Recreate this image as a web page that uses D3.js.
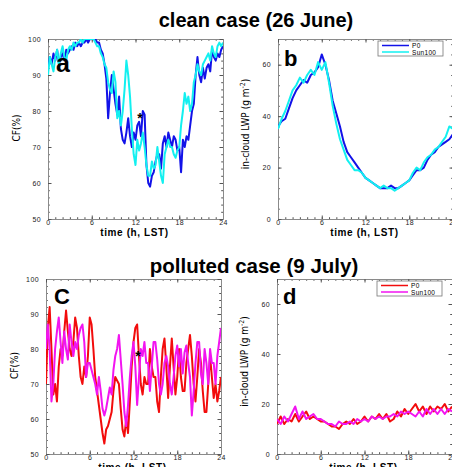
<!DOCTYPE html>
<html>
<head>
<meta charset="utf-8">
<script src="https://cdn.jsdelivr.net/npm/d3@7"></script>
<style>
  body { margin: 0; background: #fff; }
  svg { display: block; font-family: "Liberation Sans", Arial, sans-serif; }
  .tick text { font-size: 7px; fill: #222; letter-spacing: 0.4px; }
  .domain { stroke: #8a8a8a; }
  .tick line { stroke: #555; }
</style>
</head>
<body>
<div id="chart"></div>
<script>
// time grids (hours, LST)
const hoursFine = d3.range(0, 24.001, 0.25);
const hoursHalf = d3.range(0, 24.001, 0.5);

// clean case, cloud fraction (%), every 15 min
const cleanCfP0 = [
  92, 95, 93, 96,  94, 97, 93, 95,  96, 94, 97, 96,  97, 98, 97, 99,
  98, 99, 98, 99,  99, 100, 99, 100,  100, 100, 100, 99,  99, 97, 96, 93,
  89, 78, 85, 90,  86, 82, 79, 84,  75, 72, 71, 74,  78, 73, 70, 74,
  72, 76, 77, 73,  80, 79, 65, 60,  59, 62, 63, 66,  68, 68, 64, 71,
  73, 70, 74, 72,  70, 73, 72, 69,  70, 63, 72, 70,  73, 72, 76, 80,
  82, 90, 95, 90,  88, 92, 89, 92,  93, 91, 97, 95,  94, 96, 95, 97,
  98
];
const cleanCfSun100 = [
  90, 95, 93, 91,  95, 97, 93, 96,  98, 95, 94, 97,  98, 97, 99, 98,
  99, 99, 100, 99,  100, 100, 100, 100,  100, 100, 99, 98,  98, 96, 95, 93,
  92, 88, 86, 85,  91, 88, 78, 80,  76, 80, 86, 94,  90, 84, 75, 68,
  65, 72, 69, 71,  74, 70, 65, 62,  62, 66, 64, 65,  70, 66, 62, 60,
  68, 70, 72, 70,  70, 68, 67, 69,  70, 76, 80, 85,  82, 84, 80, 82,
  88, 90, 93, 91,  90, 93, 94, 95,  96, 94, 98, 96,  95, 98, 99, 98,
  99
];

// clean case, in-cloud LWP (g m-2), every 30 min
const cleanLwpP0 = [
  36, 38, 39, 43, 47, 50, 52, 54, 53, 56, 57, 59, 64, 60, 54, 46,
  41, 36, 30, 26, 24, 22, 20, 18, 16, 15, 14, 13, 12, 12, 12, 13,
  12, 12, 13, 14, 15, 17, 19, 19, 20, 23, 25, 26, 28, 29, 30, 31,
  33
];
const cleanLwpSun100 = [
  35, 39, 42, 46, 50, 52, 55, 53, 56, 58, 56, 61, 58, 61, 53, 44,
  37, 31, 27, 23, 21, 19, 19, 18, 16, 15, 14, 13, 12, 13, 12, 12,
  11, 12, 13, 14, 15, 18, 20, 19, 22, 24, 25, 27, 28, 30, 32, 36,
  35
];

// polluted case, cloud fraction (%), every 15 min
const pollCfP0 = [
  70, 86, 92, 80,  67, 70, 65, 75,  80, 78, 85, 91,  85, 80, 78, 82,
  89, 86, 78, 72,  70, 75, 72, 78,  89, 87, 80, 72,  68, 64, 60, 56,
  53, 57, 58, 60,  62, 68, 72, 71,  70, 63, 57, 55,  60, 56, 65, 75,
  82, 86, 87, 78,  70, 67, 72, 70,  70, 80, 75, 72,  72, 65, 62, 72,
  80, 83, 75, 66,  75, 83, 75, 67,  72, 80, 72, 68,  68, 76, 80, 84,
  78, 70, 65, 72,  80, 76, 68, 62,  62, 70, 78, 72,  66, 70, 65, 68,
  72
];
const pollCfSun100 = [
  80, 87, 80, 65,  70, 80, 85, 89,  82, 76, 85, 80,  77, 87, 82, 78,
  82, 80, 84, 86,  87, 82, 72, 76,  76, 74, 72, 70,  67, 72, 68, 63,
  61, 63, 66, 69,  67, 74, 78, 80,  84, 77, 70, 62,  58, 64, 72, 78,
  82, 75, 64, 72,  80, 78, 82, 76,  76, 68, 75, 82,  82, 77, 70, 67,
  70, 76, 78, 75,  70, 67, 72, 78,  81, 75, 80, 73,  79, 81, 76, 72,
  61, 68, 76, 82,  82, 73, 70, 80,  76, 70, 80, 76,  76, 70, 78, 82,
  86
];

// polluted case, in-cloud LWP (g m-2), every 30 min
const pollLwpP0 = [
  12, 15, 12, 14, 13, 16, 13, 15, 17, 14, 15, 14, 13, 13, 12, 11,
  11, 10, 12, 13, 12, 14, 12, 13, 15, 13, 15, 14, 16, 14, 16, 13,
  14, 17, 15, 18, 16, 18, 20, 17, 19, 16, 19, 17, 19, 18, 20, 17,
  19
];
const pollLwpSun100 = [
  14, 12, 15, 13, 16, 19, 14, 17, 14, 15, 16, 14, 14, 13, 12, 12,
  11, 13, 12, 12, 13, 12, 14, 13, 14, 13, 15, 14, 15, 14, 15, 15,
  16, 15, 17, 16, 17, 16, 15, 17, 15, 18, 16, 18, 16, 18, 16, 18,
  17
];

const seriesNames = ["P0", "Sun100"];
const xTicks = [0, 6, 12, 18, 24];
const cfTicks = [50, 60, 70, 80, 90, 100];
const lwpTicks = [0, 20, 40, 60];
const starPoint = [12.6, 79];

const width = 452, height = 467;
const svg = d3.select("#chart").append("svg")
    .attr("width", width)
    .attr("height", height);

// titles
svg.append("text")
    .attr("x", 256).attr("y", 27)
    .attr("text-anchor", "middle")
    .style("font-size", "20px").style("font-weight", "bold")
    .text("clean case (26 June)");
svg.append("text")
    .attr("x", 254).attr("y", 273)
    .attr("text-anchor", "middle")
    .style("font-size", "20.5px").style("font-weight", "bold")
    .text("polluted case (9 July)");

const panels = [
  { left: 48, top: 39, h: 180, letter: "a", kind: "cf", x: hoursFine,
    data: [cleanCfP0, cleanCfSun100], colors: ["#1212e8", "#12f0f0"], star: true },
  { left: 278, top: 39, h: 180, letter: "b", kind: "lwp", x: hoursHalf,
    data: [cleanLwpP0, cleanLwpSun100], colors: ["#1212e8", "#12f0f0"], legend: true },
  { left: 46, top: 279, h: 175, letter: "C", kind: "cf", x: hoursFine,
    data: [pollCfP0, pollCfSun100], colors: ["#f20c0c", "#f214f0"], star: true },
  { left: 277, top: 279, h: 175, letter: "d", kind: "lwp", x: hoursHalf,
    data: [pollLwpP0, pollLwpSun100], colors: ["#f20c0c", "#f214f0"], legend: true }
];

panels.forEach(drawPanel);

function drawPanel(p) {
    const w = 175;
    const h = p.h;
    const g = svg.append("g").attr("transform", `translate(${p.left},${p.top})`);

    const x = d3.scaleLinear().domain([0, 24]).range([0, w]);
    const y = p.kind === "cf"
        ? d3.scaleLinear().domain([50, 100]).range([h, 0])
        : d3.scaleLinear().domain([0, 70]).range([h, 0]);

    const majorY = p.kind === "cf" ? cfTicks : lwpTicks;
    const minorY = p.kind === "cf" ? d3.range(50, 100.1, 2) : d3.range(0, 70.1, 4);
    const minorX = d3.range(0, 24.1, 1);

    // minor ticks, all four sides
    const minorAxes = [
        [d3.axisBottom(x).tickValues(minorX), `translate(0,${h})`],
        [d3.axisTop(x).tickValues(minorX), null],
        [d3.axisLeft(y).tickValues(minorY), null],
        [d3.axisRight(y).tickValues(minorY), `translate(${w},0)`]
    ];
    minorAxes.forEach(([ax, tr]) => {
        const a = g.append("g").call(ax.tickSize(-1.8).tickFormat(""));
        if (tr) a.attr("transform", tr);
        a.select(".domain").remove();
    });

    // major ticks with labels
    g.append("g").attr("transform", `translate(0,${h})`)
        .call(d3.axisBottom(x).tickValues(xTicks).tickSize(-3.5).tickPadding(1.5));
    g.append("g")
        .call(d3.axisLeft(y).tickValues(majorY).tickSize(-3.5).tickPadding(7));
    g.append("g")
        .call(d3.axisTop(x).tickValues(xTicks).tickSize(-3.5).tickFormat(""));
    g.append("g").attr("transform", `translate(${w},0)`)
        .call(d3.axisRight(y).tickValues(majorY).tickSize(-3.5).tickFormat(""));

    // clip lines to the frame
    const clipId = "clip-" + p.letter;
    g.append("clipPath").attr("id", clipId)
        .append("rect").attr("width", w).attr("height", h);

    const line = d3.line()
        .x((d, i) => x(p.x[i]))
        .y(d => y(d));

    p.data.forEach((series, k) => {
        g.append("path")
            .datum(series)
            .attr("clip-path", `url(#${clipId})`)
            .attr("fill", "none")
            .attr("stroke", p.colors[k])
            .attr("stroke-width", 2)
            .attr("stroke-linejoin", "round")
            .attr("d", line);
    });

    // panel letter
    g.append("text")
        .attr("x", p.letter === "b" || p.letter === "d" ? 6 : 8)
        .attr("y", p.letter === "a" ? 33 : (p.letter === "b" ? 27 : 25))
        .style("font-size", p.letter === "a" ? "25px" : "22px")
        .style("font-weight", "bold")
        .text(p.letter);

    if (p.star) {
        g.append("text")
            .attr("x", x(starPoint[0]))
            .attr("y", y(starPoint[1]) + 8)
            .attr("text-anchor", "middle")
            .style("font-size", "14px")
            .style("font-weight", "bold")
            .text("*");
    }

    // x axis label
    g.append("text")
        .attr("x", w / 2 - 1)
        .attr("y", h + 16.5)
        .attr("text-anchor", "middle")
        .style("font-size", "10px")
        .style("font-weight", "bold")
        .style("letter-spacing", "0.6px")
        .text("time (h, LST)");

    // y axis label
    const yl = g.append("text")
        .attr("transform", `translate(${p.kind === "cf" ? -28 : -29},${h / 2 + (p.kind === "cf" ? -1 : -5)}) rotate(-90)`)
        .attr("text-anchor", "middle")
        .style("font-family", "'Liberation Sans Narrow', 'DejaVu Sans Condensed', sans-serif")
        .style("font-size", "10px");
    if (p.kind === "cf") {
        yl.text("CF(%)");
    } else {
        yl.append("tspan").text("in-cloud LWP (g m");
        yl.append("tspan").attr("dy", -4).style("font-size", "7px").text("-2");
        yl.append("tspan").attr("dy", 4).text(")");
    }

    if (p.legend) {
        const lg = g.append("g").attr("transform", `translate(${w - 75},2)`);
        lg.append("rect")
            .attr("width", 65).attr("height", 15)
            .attr("fill", "#fff").attr("stroke", "#777").attr("stroke-width", 0.8);
        seriesNames.forEach((name, i) => {
            lg.append("line")
                .attr("x1", 4).attr("x2", 31)
                .attr("y1", 4.5 + i * 6.5).attr("y2", 4.5 + i * 6.5)
                .attr("stroke", p.colors[i]).attr("stroke-width", 1.5);
            lg.append("text")
                .attr("x", 34).attr("y", 7 + i * 6.5)
                .style("font-size", "6.5px")
                .style("letter-spacing", "0.3px")
                .text(name);
        });
    }
}
</script>
</body>
</html>
